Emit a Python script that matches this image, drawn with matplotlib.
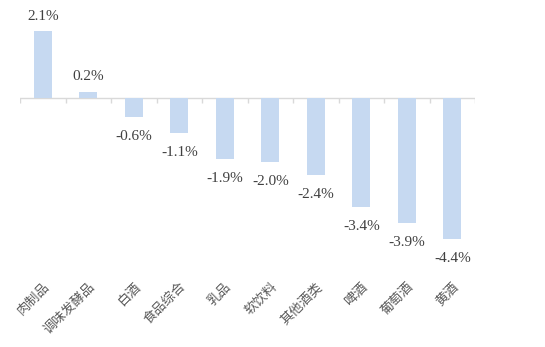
import numpy as np
import matplotlib.pyplot as plt

# 食品饮料子行业涨跌幅
categories = ["肉制品", "调味发酵品", "白酒", "食品综合", "乳品", "软饮料", "其他酒类", "啤酒", "葡萄酒", "黄酒"]
changes = [2.1, 0.2, -0.6, -1.1, -1.9, -2.0, -2.4, -3.4, -3.9, -4.4]

bar_color = "#c6d9f1"
axis_color = "#d9d9d9"

fig = plt.figure(figsize=(5.45, 3.47), dpi=100)
ax = fig.add_axes([0.0367, 0.205, 0.835, 0.795])

x = np.arange(len(categories))
ax.bar(x, changes, width=0.4, color=bar_color, zorder=2)

ax.set_xlim(-0.5, len(categories) - 0.5)
ax.set_ylim(-5.57, 3.07)

# zero line with small separators between categories
ax.axhline(0, color=axis_color, lw=1, zorder=1)
bounds = np.arange(len(categories) + 1) - 0.5
ax.vlines(bounds, -0.16, 0, color=axis_color, lw=1, zorder=1)

# value labels
for xi, v in zip(x, changes):
    if v >= 0:
        ax.annotate(f"{v:.1f}%", (xi, v), xytext=(0, 6), textcoords="offset points",
                    ha="center", va="bottom", fontsize=11,
                    family="Liberation Serif", color="#404040")
    else:
        ax.annotate(f"{v:.1f}%", (xi, v), xytext=(0, -9.5), textcoords="offset points",
                    ha="center", va="top", fontsize=11,
                    family="Liberation Serif", color="#404040")

ax.set_xticks(x)
ax.set_xticklabels(categories, rotation=45, ha="right", rotation_mode="anchor",
                   fontsize=9.5, family=["Noto Sans CJK SC", "DejaVu Sans"], color="#595959")
ax.tick_params(axis="x", length=0, pad=3)
ax.set_yticks([])
for s in ax.spines.values():
    s.set_visible(False)

fig.savefig("out.png", dpi=100)
